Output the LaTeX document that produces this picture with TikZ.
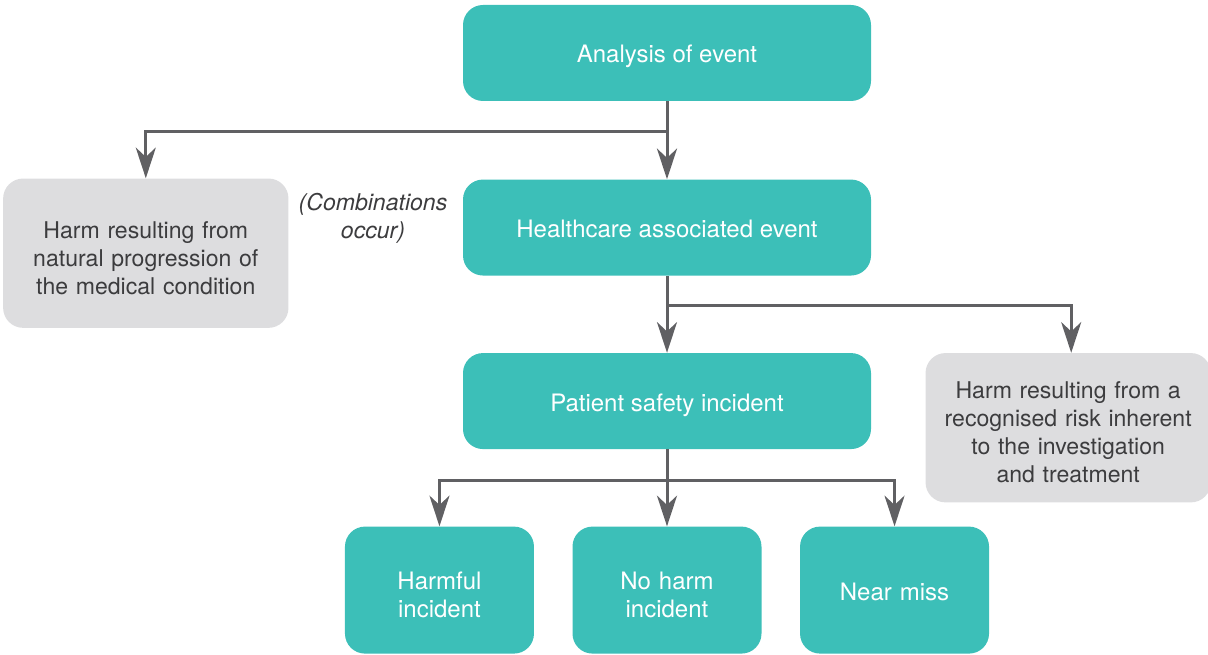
\documentclass[tikz,border=0pt]{standalone}
\usepackage{fontspec}
\setmainfont{TeX Gyre Heros}
\usetikzlibrary{shapes, arrows.meta}
\usetikzlibrary{positioning}
\definecolor{tealfill}{HTML}{3CBFB8}
\definecolor{greyfill}{HTML}{DDDDDF}
\definecolor{linegrey}{HTML}{606063}
\definecolor{textgrey}{HTML}{3C3C3E}
\tikzstyle{boxtext} = [execute at begin node={\rule[-5pt]{0pt}{25pt}}]
\tikzstyle{eventbox} = [rectangle, rounded corners=15pt, minimum width=306pt, minimum height=72pt, text centered, fill=tealfill, text=white, boxtext, font=\fontsize{18}{21}\selectfont]
\tikzstyle{outcome} = [rectangle, rounded corners=15pt, minimum width=141.75pt, minimum height=95.25pt, text width=130pt, align=center, fill=tealfill, text=white, boxtext, font=\fontsize{18}{21}\selectfont]
\tikzstyle{harmbox} = [rectangle, rounded corners=15pt, minimum width=214pt, minimum height=112pt, text width=200pt, align=center, fill=greyfill, text=textgrey, boxtext]
\tikzstyle{arrow} = [line width=2.25pt, draw=linegrey, -{Stealth[length=23pt, width=15pt, inset=7pt]}]

\begin{document}
\begin{tikzpicture}[font=\fontsize{17.3}{21}\selectfont]
    \useasboundingbox (0pt,0pt) rectangle (906pt,-491.25pt);

    % Nodes
    \node (analysis) [eventbox] at (500.25pt,-39.75pt) {Analysis of event};
    \node (healthcare) [eventbox, below=58.5pt of analysis] {Healthcare associated event};
    \node (patient) [eventbox, below=57.75pt of healthcare] {Patient safety incident};
    \node (noharm) [outcome, below=57.75pt of patient] {No harm\\incident};
    \node (harmful) [outcome, left=28.5pt of noharm] {Harmful\\incident};
    \node (nearmiss) [outcome, right=28.5pt of noharm] {Near miss};
    \node (natural) [harmbox, left=130.5pt of healthcare.north west, anchor=north east, yshift=0.75pt] {Harm resulting from\\natural progression of\\the medical condition};
    \node (inherent) [harmbox, right=40.5pt of patient.north east, anchor=north west] {Harm resulting from a\\recognised risk inherent\\to the investigation\\and treatment};
    \node (combi) [left=8pt of healthcare.north west, anchor=north east, yshift=-6.75pt, align=center, text=textgrey, font=\fontsize{17.3}{21}\selectfont\itshape] {(Combinations\\occur)};

    % Split points
    \coordinate [below=22.5pt of analysis.south] (split1);
    \coordinate [below=22.5pt of healthcare.south] (split2);
    \coordinate [below=23.25pt of patient.south] (split3);

    % Arrows
    \draw [arrow] (analysis) -- (healthcare);
    \draw [arrow] (split1) -| (natural.north);
    \draw [arrow] (healthcare) -- (patient);
    \draw [arrow] (split2) -| ([xshift=2.25pt]inherent.north);
    \draw [arrow] (patient) -- (noharm);
    \draw [arrow] (split3) -| (harmful.north);
    \draw [arrow] (split3) -| (nearmiss.north);

\end{tikzpicture}
\end{document}
